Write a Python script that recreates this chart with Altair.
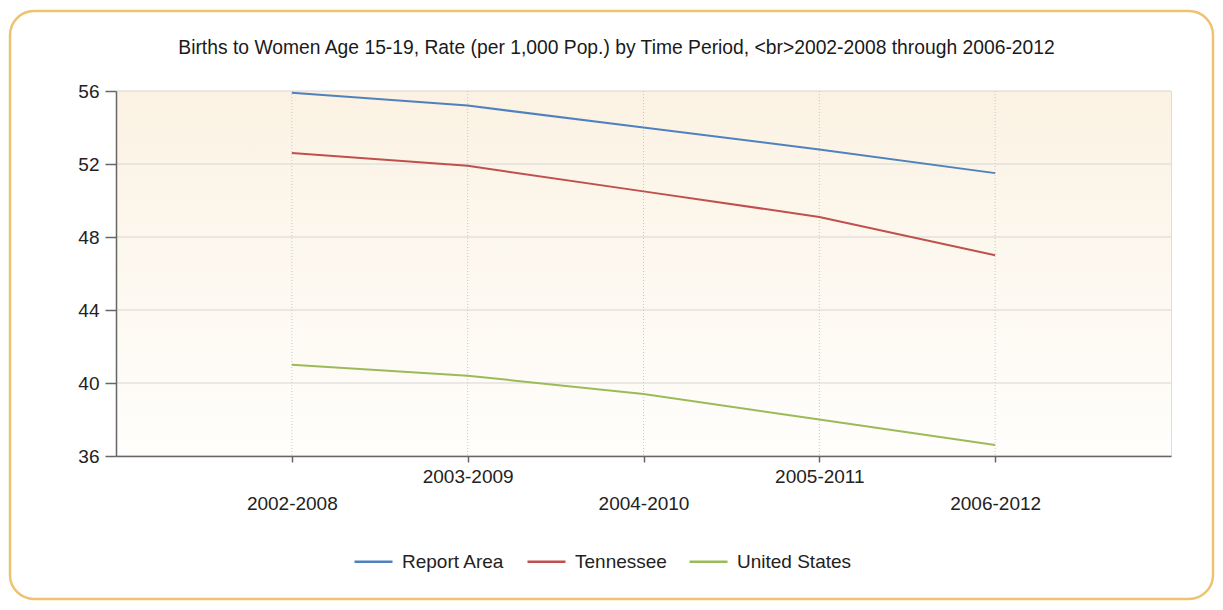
import altair as alt
import pandas as pd

periods = ["2002-2008", "2003-2009", "2004-2010", "2005-2011", "2006-2012"]
report_area = [55.9, 55.2, 54.0, 52.8, 51.5]
tennessee = [52.6, 51.9, 50.5, 49.1, 47.0]
united_states = [41.0, 40.4, 39.4, 38.0, 36.6]
series_names = ["Report Area", "Tennessee", "United States"]
series_colors = ["#4F81BD", "#C0504D", "#9BBB59"]
y_ticks = [36, 40, 44, 48, 52, 56]

W, H = 1055, 365
FONT = "Liberation Sans"

rows = []
for name, vals in zip(series_names, [report_area, tennessee, united_states]):
    for p, v in zip(periods, vals):
        rows.append({"period": p, "value": v, "series": name})
df = pd.DataFrame(rows)

xscale = alt.Scale(type="point", domain=periods, padding=1)
yscale = alt.Scale(domain=[36, 56], nice=False, zero=False)

common = dict(labelFont=FONT, labelFontSize=19, labelColor="#222222",
              domainColor="#666666", tickColor="#666666",
              domainWidth=1.5, tickWidth=1.5, grid=False, zindex=1)
upper = "indexof(['2003-2009','2005-2011'], datum.value) >= 0 ? datum.value : ['', datum.value]"
xaxis = alt.Axis(labelExpr=upper, labelAngle=0, labelOverlap=False,
                 labelLineHeight=27, labelPadding=5, tickSize=6,
                 labelBaseline="top", **common)
yaxis = alt.Axis(values=y_ticks, tickSize=11, labelPadding=6, **common)

one = pd.DataFrame({"k": [0]})

frame = alt.Chart(one).mark_rect(
    filled=False, stroke="#EEC370", strokeWidth=2.5, cornerRadius=24
).encode(x=alt.value(-106), x2=alt.value(W + 42), y=alt.value(-80), y2=alt.value(H + 143))

bg = alt.Chart(one).mark_rect(
    color=alt.LinearGradient(
        gradient="linear",
        stops=[alt.GradientStop(color="#FBF2E3", offset=0),
               alt.GradientStop(color="#FFFEFC", offset=1)],
        x1=0, x2=0, y1=0, y2=1,
    )
).encode(x=alt.value(0), x2=alt.value(W), y=alt.value(0), y2=alt.value(H))

hgrid = alt.Chart(pd.DataFrame({"t": y_ticks})).mark_rule(
    color="#D6D6D6", strokeWidth=1
).encode(y=alt.Y("t:Q", scale=yscale, title=None, axis=yaxis))

vgrid = alt.Chart(pd.DataFrame({"period": periods})).mark_rule(
    color="#C8C8C8", strokeWidth=1, strokeDash=[1, 2]
).encode(x=alt.X("period:N", scale=xscale, sort=periods, title=None, axis=xaxis))

lines = alt.Chart(df).mark_line(strokeWidth=2).encode(
    x=alt.X("period:N", scale=xscale, sort=periods, title=None, axis=xaxis),
    y=alt.Y("value:Q", scale=yscale, title=None, axis=yaxis),
    color=alt.Color("series:N", title=None,
                    scale=alt.Scale(domain=series_names, range=series_colors),
                    legend=alt.Legend(orient="none", direction="horizontal",
                                      legendX=237, legendY=450,
                                      symbolType="stroke", symbolSize=1444,
                                      symbolStrokeWidth=2.5, labelOffset=8,
                                      columnPadding=17, labelFontSize=19,
                                      labelFont=FONT, labelColor="#222222")),
)

chart = alt.layer(frame, bg, hgrid, vgrid, lines).properties(
    width=W, height=H,
    autosize=alt.AutoSizeParams(type="none"),
    padding={"left": 108, "top": 83, "right": 44, "bottom": 146},
    title=alt.TitleParams(
        "Births to Women Age 15-19, Rate (per 1,000 Pop.) by Time Period, <br>2002-2008 through 2006-2012",
        fontSize=19.3, font=FONT, fontWeight="normal", color="#1A1A1A",
        anchor="middle", dx=-27, offset=-64, baseline="alphabetic",
    ),
).configure_view(stroke="#CCCCCC", strokeDash=[1, 2]).configure(background="white")

chart.save("out.html", embed_options={"renderer": "svg", "actions": False})
